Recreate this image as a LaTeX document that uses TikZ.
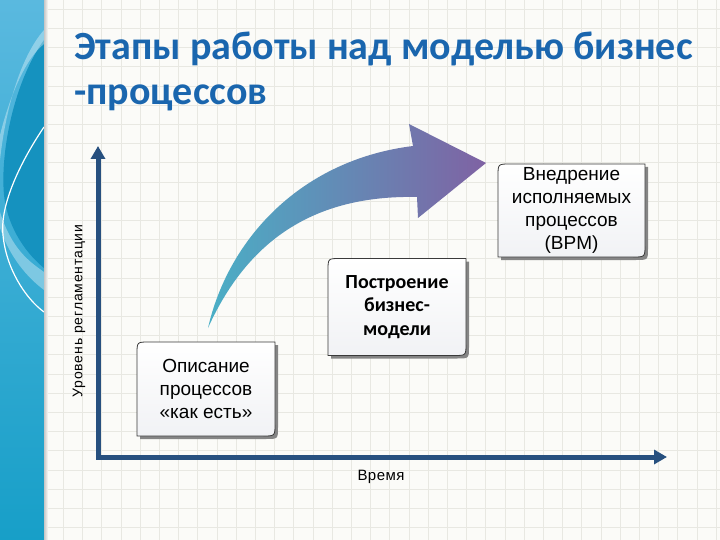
\documentclass[tikz,border=0pt]{standalone}
\usepackage{fontspec}
\setmainfont{Liberation Sans}
\newfontfamily\calibri{Carlito}
\newfontfamily\spacedarial[LetterSpace=6]{Liberation Sans}
\newfontfamily\lightspaced[LetterSpace=3]{Liberation Sans}
\usetikzlibrary{arrows.meta,calc}
\definecolor{titleblue}{HTML}{1A66AE}
\definecolor{axisblue}{HTML}{27507F}
\definecolor{paper}{HTML}{FBFBF8}
\definecolor{gridc}{HTML}{E8E8E2}
\definecolor{stripTop}{HTML}{5AB9DF}
\definecolor{stripBot}{HTML}{179FC8}
\definecolor{stripDark}{HTML}{1592BF}
\definecolor{teal}{HTML}{4AAFC6}
\definecolor{midarrow}{HTML}{6690BB}
\definecolor{purp}{HTML}{7F62A3}
\definecolor{frame}{HTML}{3A3A3A}
\definecolor{shadowc}{HTML}{858585}
\definecolor{boxbot}{HTML}{F1F2F5}
\tikzset{
  stageshadow/.style={fill=shadowc},
  stageframe/.style={draw=frame, line width=0.8pt, top color=white, bottom color=boxbot},
  arialtext/.style={align=center, text=black, font={\fontsize{19}{23}\selectfont}},
  calibritext/.style={align=center, text=black, font={\calibri\bfseries\fontsize{20}{23.5}\selectfont}},
  axisline/.style={draw=axisblue, line width=5pt, line join=miter},
}
\newcommand\stagebox[7]{%
  \pgfmathsetmacro\hw{#4/2}\pgfmathsetmacro\hh{#5/2}%
  \begin{scope}[shift={(#2,#3)}]
    \fill[stageshadow, shift={(3,3)}] (-\hw,\hh) -- (-\hw,-\hh+12) .. controls (-\hw,-\hh) .. (-\hw+12,-\hh) -- (\hw,-\hh) -- (\hw,\hh-12) .. controls (\hw,\hh) .. (\hw-12,\hh) -- cycle;
    \path[stageframe] (-\hw,\hh) -- (-\hw,-\hh+12) .. controls (-\hw,-\hh) .. (-\hw+12,-\hh) -- (\hw,-\hh) -- (\hw,\hh-12) .. controls (\hw,\hh) .. (\hw-12,\hh) -- cycle;
  \end{scope}
  \node[#6] (#1) at (#2,#3) {#7};%
}
\begin{document}
\begin{tikzpicture}[x=1pt,y=-1pt]
\useasboundingbox (0,0) rectangle (720,540);
% paper and grid
\fill[paper] (0,0) rectangle (720,540);
\foreach \k in {1,...,35} {\draw[gridc, line width=0.6pt] ({44+\k*19.2},0) -- ({44+\k*19.2},540);}
\foreach \k in {0,...,28} {\draw[gridc, line width=0.6pt] (44,{9.1+\k*19.2}) -- (720,{9.1+\k*19.2});}
% left strip
\shade[top color=stripTop, bottom color=stripBot] (0,0) rectangle (44,540);
\begin{scope}
  \clip (0,0) rectangle (44,540);
  \fill[stripDark] (44,40) .. controls (15,80) and (0,150) .. (4,195) .. controls (8,230) and (28,255) .. (44,268) -- cycle;
  \fill[white, opacity=0.35] (44,30) .. controls (22,55) and (6,105) .. (0,160) -- (0,135) .. controls (10,95) and (26,58) .. (44,44) -- cycle;
  \fill[white, opacity=0.35] (0,228) .. controls (10,258) and (28,278) .. (44,290) -- (44,272) .. controls (30,262) and (12,250) .. (0,212) -- cycle;
  \draw[white, line width=1.2pt] (44,127) .. controls (15,170) and (0,210) .. (3,235) .. controls (6,268) and (25,298) .. (44,312);
\end{scope}
\shade[left color=black!22, right color=paper] (44,0) rectangle (48,540);
% title
\node[anchor=base west, inner sep=0pt, text=titleblue, font={\calibri\bfseries\fontsize{40}{45}\selectfont}] (title1) at (74,60) {Этапы работы над моделью бизнес};
\node[anchor=base west, inner sep=0pt, text=titleblue, font={\calibri\bfseries\fontsize{40}{45}\selectfont}] (title2) at (74,105) {-процессов};
% axes
\coordinate (ytip) at (98,146);
\coordinate (origin) at (98,457);
\coordinate (xtip) at (667,457);
\draw[axisline, {Triangle[length=13pt,width=14pt]}-{Triangle[length=13pt,width=14pt]}] (ytip) -- (origin) -- (xtip);
\node[rotate=90, text=black, font={\spacedarial\fontsize{14}{16}\selectfont}] (ylabel) at (79,311) {Уровень регламентации};
\node[text=black, font={\lightspaced\fontsize{15}{17}\selectfont}] (xlabel) at (381,477) {Время};
% curved arrow
\coordinate (tail) at (208,328);
\shade[left color=teal, middle color=midarrow, right color=purp]
  (tail) .. controls (228,240) and (300,160) .. (413,146) -- (409,124) -- (486,163) -- (418,218) -- (417,197) .. controls (320,195) and (250,235) .. (tail) -- cycle;
% stage boxes
\stagebox{b1}{206}{389}{138}{94}{arialtext}{Описание\\процессов\\«как есть»}
\stagebox{b2}{397}{307}{138}{97}{calibritext}{Построение\\бизнес-\\модели}
\stagebox{b3}{571.5}{210.5}{147}{93}{arialtext}{Внедрение\\исполняемых\\процессов\\(BPM)}
\end{tikzpicture}
\end{document}
